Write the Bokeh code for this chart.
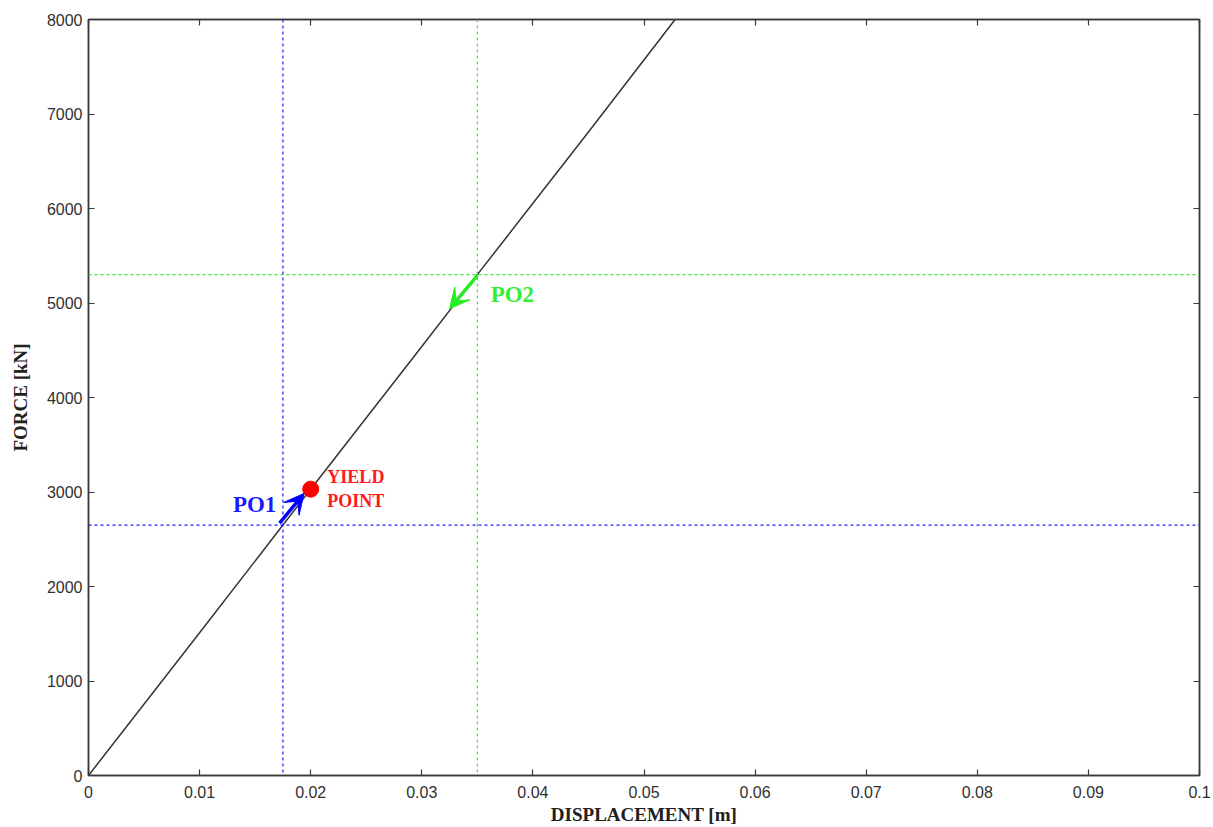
from bokeh.plotting import figure
from bokeh.models import (Range1d, FixedTicker, LinearAxis, Span, Arrow, VeeHead,
                          Label, ColumnDataSource)
from bokeh.embed import file_html
from bokeh.resources import INLINE

# Pushover capacity curve (displacement in m, force in kN)
disp = [0.0, 0.0100, 0.0175, 0.0200, 0.0300, 0.0350, 0.0450, 0.0528]
force = [0.0, 1510.0, 2650.0, 3030.0, 4540.0, 5300.0, 6810.0, 8000.0]

# Yield point
yield_disp = 0.0200
yield_force = 3030.0

# Performance objectives
po1_disp, po1_force = 0.0175, 2650.0
po2_disp, po2_force = 0.0350, 5300.0

# Arrow ends near each objective
po1_arrow = (0.0172, 2670.0, 0.0194, 2985.0)
po2_arrow = (0.0350, 5290.0, 0.0325, 4940.0)

x_ticks = [0, 0.01, 0.02, 0.03, 0.04, 0.05, 0.06, 0.07, 0.08, 0.09, 0.1]
x_tick_labels = ["0", "0.01", "0.02", "0.03", "0.04", "0.05", "0.06", "0.07", "0.08", "0.09", "0.1"]
y_ticks = [0, 1000, 2000, 3000, 4000, 5000, 6000, 7000, 8000]

AX = "#3a3a3a"
TICK_FONT = "Liberation Sans"
SERIF = "Liberation Serif"

p = figure(width=1213, height=827, output_backend="svg", toolbar_location=None,
           x_range=Range1d(0, 0.1), y_range=Range1d(0, 8000),
           min_border_left=88, min_border_right=14, min_border_top=19, min_border_bottom=51,
           x_axis_label="DISPLACEMENT [m]", y_axis_label="FORCE [kN]")
p.grid.visible = False
p.outline_line_color = AX
p.outline_line_width = 1.5
p.background_fill_color = "white"
p.border_fill_color = "white"

for ax in (p.xaxis[0], p.yaxis[0]):
    ax.major_tick_in = 6
    ax.major_tick_out = 0
    ax.minor_tick_in = 0
    ax.minor_tick_out = 0
    ax.axis_line_color = AX
    ax.axis_line_width = 1.5
    ax.major_tick_line_color = AX
    ax.major_tick_line_width = 1.2
    ax.major_label_text_font = TICK_FONT
    ax.major_label_text_font_size = "16px"
    ax.major_label_text_color = "#303030"
    ax.axis_label_text_font = SERIF
    ax.axis_label_text_font_style = "bold"
    ax.axis_label_text_font_size = "19px"
    ax.axis_label_text_color = "#202020"

p.xaxis[0].ticker = FixedTicker(ticks=x_ticks)
p.xaxis[0].major_label_overrides = {t: s for t, s in zip(x_ticks, x_tick_labels)}
p.xaxis[0].major_label_standoff = 10
p.xaxis[0].axis_label_standoff = 3
p.yaxis[0].ticker = FixedTicker(ticks=y_ticks)
p.yaxis[0].major_label_standoff = 6
p.yaxis[0].axis_label_standoff = 13


def mirror_axis(ticks):
    # tick marks only, no labels
    return LinearAxis(ticker=FixedTicker(ticks=ticks),
                      major_label_overrides={t: "" for t in ticks},
                      major_label_text_color=None, major_label_standoff=0,
                      major_tick_in=6, major_tick_out=0, minor_tick_in=0, minor_tick_out=0,
                      axis_line_color=AX, axis_line_width=1.5, major_tick_line_color=AX,
                      major_tick_line_width=1.2)


p.add_layout(mirror_axis(x_ticks), "above")
p.add_layout(mirror_axis(y_ticks), "right")

# performance objective guides
blue = "#1a1aff"
green = "#33ee33"
p.add_layout(Span(location=po1_disp, dimension="height", line_color=blue,
                  line_dash="3 3", line_width=1.2))
p.add_layout(Span(location=po1_force, dimension="width", line_color=blue,
                  line_dash="3 3", line_width=1.2))
p.add_layout(Span(location=po2_disp, dimension="height", line_color=green,
                  line_dash="3 3", line_width=1.2))
p.add_layout(Span(location=po2_force, dimension="width", line_color=green,
                  line_dash="3 3", line_width=1.2))

# capacity curve
src = ColumnDataSource(data=dict(x=disp, y=force))
p.line("x", "y", source=src, line_color="#333333", line_width=1.5)

# yield point
p.scatter([yield_disp], [yield_force], size=16, color="#ff0000")

# arrows
p.add_layout(Arrow(x_start=po1_arrow[0], y_start=po1_arrow[1],
                   x_end=po1_arrow[2], y_end=po1_arrow[3],
                   line_color="#0000ff", line_width=3.5,
                   end=VeeHead(size=20, fill_color="#0000ff", line_color="#0000ff")))
p.add_layout(Arrow(x_start=po2_arrow[0], y_start=po2_arrow[1],
                   x_end=po2_arrow[2], y_end=po2_arrow[3],
                   line_color="#22ee22", line_width=3.5,
                   end=VeeHead(size=20, fill_color="#22ee22", line_color="#22ee22")))

# labels
p.add_layout(Label(x=0.0130, y=2865, text="PO1", text_color="#1a1aff",
                   text_font=SERIF, text_font_style="bold", text_font_size="23px",
                   text_baseline="middle"))
p.add_layout(Label(x=0.0362, y=5085, text="PO2", text_color="#33ee33",
                   text_font=SERIF, text_font_style="bold", text_font_size="23px",
                   text_baseline="middle"))
p.add_layout(Label(x=0.0215, y=3155, text="YIELD", text_color="#ff1a1a",
                   text_font=SERIF, text_font_style="bold", text_font_size="18px",
                   text_baseline="middle"))
p.add_layout(Label(x=0.0215, y=2905, text="POINT", text_color="#ff1a1a",
                   text_font=SERIF, text_font_style="bold", text_font_size="18px",
                   text_baseline="middle"))

open("out.html", "w").write(file_html(p, INLINE))
